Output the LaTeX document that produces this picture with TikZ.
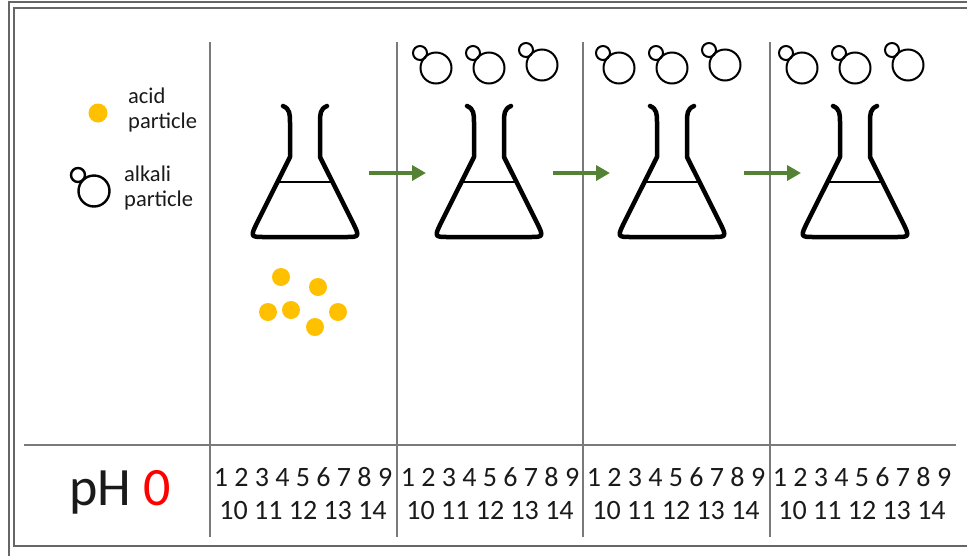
\documentclass[tikz,border=0pt]{standalone}
\usepackage{fontspec}
\setmainfont{Carlito}
\usetikzlibrary{arrows.meta}

\definecolor{acidgold}{HTML}{FFC000}
\definecolor{arrowgreen}{HTML}{548235}
\definecolor{rulegray}{HTML}{7A7A7A}
\definecolor{framegray}{HTML}{666666}
\definecolor{inkblack}{HTML}{1A1A1A}

\tikzset{
  flask/.style={line width=4.5pt, line cap=round, line join=round},
  alkali/.style={line width=2pt},
  rule/.style={rulegray, line width=1.3pt},
  frameline/.style={framegray, line width=1.2pt},
  legendtext/.style={font=\fontsize{22.5}{25}\selectfont, align=left, inner sep=0pt, text=inkblack},
  scaletext/.style={font=\fontsize{28}{30}\selectfont, inner sep=0pt, text=inkblack},
  steparrow/.style={arrowgreen, line width=4.5pt, -{Triangle[length=14pt,width=15pt]}}
}

\begin{document}
\begin{tikzpicture}[x=1pt, y=-1pt]
  \useasboundingbox (0,0) rectangle (967,555);
  \clip (0,0) rectangle (967,555);

  % Double frame
  \draw[frameline] (9,570) -- (9,2) -- (980,2);
  \draw[frameline] (980,546) -- (14,546) -- (14,8) -- (980,8);

  % Table lines
  \foreach \x in {210,397,583,770}
    \draw[rule] (\x,42) -- (\x,537);
  \draw[rule] (24,445) -- (956,445);

  % Legend
  \fill[acidgold] (98,113) circle (9.5);
  \node[legendtext, anchor=west] (acidlabel) at (128,110) {acid\\particle};
  \draw[alkali, line width=2.4pt] (78,175) circle (7);
  \draw[alkali, line width=2.4pt] (94,191) circle (15.5);
  \node[legendtext, anchor=west] (alkalilabel) at (124,188) {alkali\\particle};

  % Flasks
  \foreach \c in {305,489,672,855} {
    \begin{scope}[shift={(\c,0)}]
      \draw[flask] (-22,106) .. controls (-15,109) and (-15,114) .. (-15,123)
        -- (-15,157) -- (-47,220.9) .. controls (-55,237) .. (-40,237)
        -- (40,237) .. controls (55,237) .. (47,220.9)
        -- (15,157) -- (15,123) .. controls (15,114) and (15,109) .. (22,106);
      \draw[line width=1.5pt] (-27.5,182) -- (27.5,182);
    \end{scope}
  }

  % Arrows between steps
  \foreach \i/\s in {1/369,2/553,3/744} {
    \coordinate (from\i) at (\s,173);
    \coordinate (to\i) at (\s+57,173);
    \draw[steparrow] (from\i) -- (to\i);
  }

  % Acid particles under the first flask
  \foreach \p in {(281,277),(318,287),(268,312),(291,310),(338,312),(315,327)}
    \fill[acidgold] \p circle (9);

  % Alkali particles added in each step
  \foreach \c in {489,672,855} {
    \foreach \dx/\dy in {-53/0,0/0,53/-3} {
      \draw[alkali] (\c+\dx-16,53+\dy) circle (7);
      \draw[alkali] (\c+\dx,68+\dy) circle (15.5);
    }
  }

  % pH scale row
  \node[font=\fontsize{54}{60}\selectfont, text=inkblack, inner sep=0pt] (phlabel) at (120,492) {pH \textcolor{red}{0}};
  \foreach \c [count=\i] in {303,490,676,862} {
    \node[scaletext] (upper\i) at (\c,477) {1 2 3 4 5 6 7 8 9};
    \node[scaletext] (lower\i) at (\c,511) {10 11 12 13 14};
  }
\end{tikzpicture}
\end{document}
